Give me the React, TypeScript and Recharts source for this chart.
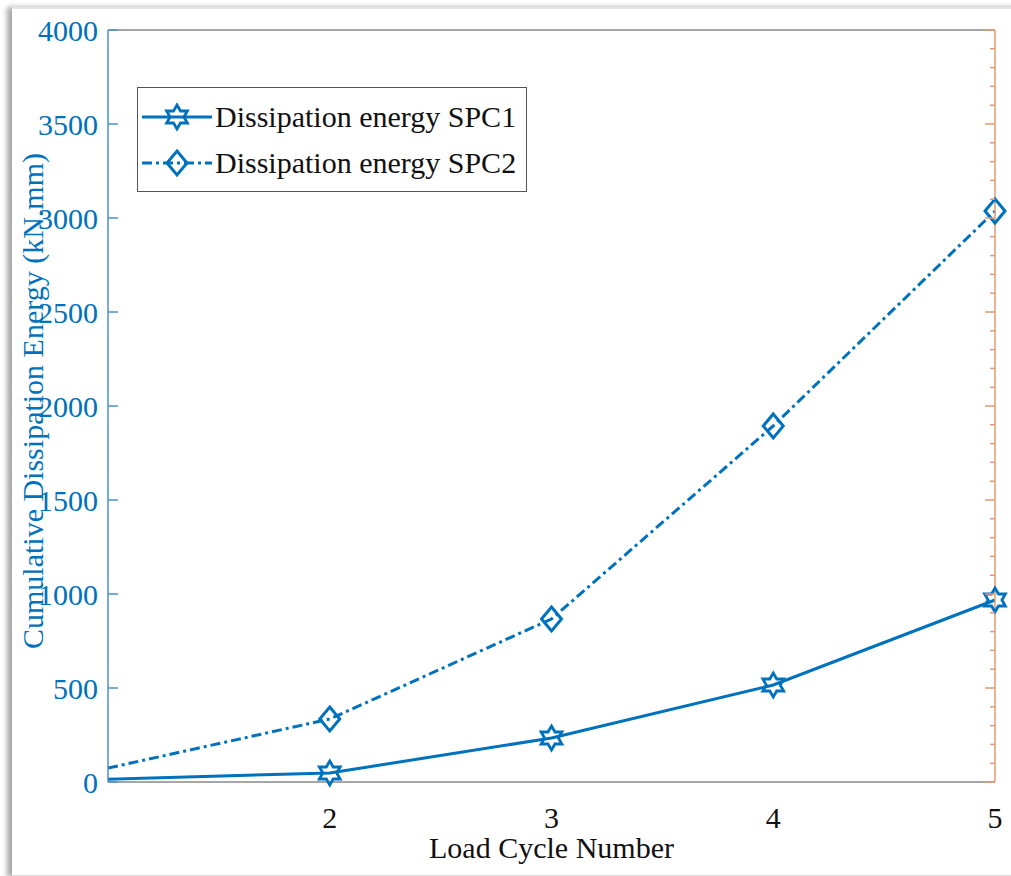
import React from 'react';
import { LineChart, Line, XAxis, YAxis, ReferenceLine } from 'recharts';

const cycles = [1, 2, 3, 4, 5];
const spc1 = [15, 48, 234, 516, 968];
const spc2 = [74, 335, 867, 1894, 3037];
const xTicks = [2, 3, 4, 5];
const yTicks = [0, 500, 1000, 1500, 2000, 2500, 3000, 3500, 4000];
const minorTicks = Array.from({ length: 41 }, (_, i) => i * 100);
const seriesNames = ['Dissipation energy SPC1', 'Dissipation energy SPC2'];

const data = cycles.map((c, i) => ({ cycle: c, spc1: spc1[i], spc2: spc2[i] }));

const BLUE = '#0072BD';
const ORANGE = '#e59a72';
const FONT = '"Liberation Serif", "Times New Roman", serif';
const DASH = '10 4 3 4';

function Hexagram({ cx, cy, index }: any) {
  if (index === 0 || cx == null) return <g key={`h${index}`} />;
  const R = 12;
  const r = R / Math.sqrt(3);
  const pts = [];
  for (let k = 0; k < 12; k++) {
    const a = (-90 + k * 30) * (Math.PI / 180);
    const rad = k % 2 === 0 ? R : r;
    pts.push(`${cx + rad * Math.cos(a)},${cy + rad * Math.sin(a)}`);
  }
  return <polygon key={`h${index}`} points={pts.join(' ')} fill="none" stroke={BLUE} strokeWidth={2.8} />;
}

function Diamond({ cx, cy, index }: any) {
  if (index === 0 || cx == null) return <g key={`d${index}`} />;
  const w = 10, h = 12;
  return (
    <polygon
      key={`d${index}`}
      points={`${cx},${cy - h} ${cx + w},${cy} ${cx},${cy + h} ${cx - w},${cy}`}
      fill="none"
      stroke={BLUE}
      strokeWidth={3}
    />
  );
}

// right-hand axis: minor ticks every 100, longer ones every 500, pointing inward
const rightTick = (p: any) => {
  const len = p.payload.value % 500 === 0 ? 10 : 5;
  return (
    <path key={`rt${p.index}`} d={`M${p.x},${p.y}h${-len}`} stroke={ORANGE} strokeWidth={1.5} fill="none" />
  );
};

function LegendBox() {
  const rows = [
    { name: seriesNames[0], dash: undefined, Mark: Hexagram },
    { name: seriesNames[1], dash: DASH, Mark: Diamond },
  ];
  return (
    <div
      style={{
        position: 'absolute',
        left: 137,
        top: 87,
        border: '1.5px solid #555',
        background: '#fff',
        height: 105,
        boxSizing: 'border-box',
        paddingTop: 6,
        paddingRight: 10,
      }}
    >
      {rows.map((r) => (
        <div key={r.name} style={{ display: 'flex', alignItems: 'center', height: 46 }}>
          <svg width={74} height={30} style={{ marginLeft: 2 }}>
            <line x1={2} y1={15} x2={72} y2={15} stroke={BLUE} strokeWidth={3} strokeDasharray={r.dash} />
            <r.Mark cx={37} cy={15} index={1} />
          </svg>
          <span style={{ fontFamily: FONT, fontSize: 30, color: '#111', marginLeft: 1, whiteSpace: 'nowrap' }}>
            {r.name}
          </span>
        </div>
      ))}
    </div>
  );
}

export default function App() {
  return (
    <div style={{ position: 'absolute', left: 0, top: 0, width: 1011, height: 876, background: '#fff', overflow: 'hidden' }}>
      <div
        style={{
          position: 'absolute',
          left: 12,
          top: 7,
          width: 1020,
          height: 866,
          borderTop: '2px solid #e6e6e6',
          borderBottom: '2px solid #dcdcdc',
          boxShadow: '-5px 0 5px #a8a8a8',
          background: '#fff',
        }}
      />
      <div style={{ position: 'absolute', left: 0, top: 0 }}>
        <LineChart width={1011} height={876} data={data} margin={{ top: 30, right: 0, bottom: 34, left: 0 }}>
          <XAxis
            dataKey="cycle"
            type="number"
            domain={[1, 5]}
            ticks={xTicks}
            axisLine={{ stroke: '#888', strokeWidth: 1.5 }}
            tickLine={false}
            tick={{ fill: '#111', fontSize: 30, fontFamily: FONT }}
            tickMargin={19}
            height={60}
            label={({ viewBox }: any) => (
              <text
                x={viewBox.x + viewBox.width / 2}
                y={viewBox.y + 76}
                textAnchor="middle"
                fill="#111"
                fontSize={30}
                fontFamily={FONT}
              >
                Load Cycle Number
              </text>
            )}
          />
          <YAxis
            yAxisId="left"
            type="number"
            domain={[0, 4000]}
            ticks={yTicks}
            width={108}
            axisLine={{ stroke: '#4a90c8', strokeWidth: 1.5 }}
            tickLine={{ stroke: '#4a90c8', strokeWidth: 1.5 }}
            tickSize={-10}
            tickMargin={20}
            tick={{ fill: BLUE, fontSize: 30, fontFamily: FONT }}
            label={({ viewBox }: any) => {
              const cx = viewBox.x + 32;
              const cy = viewBox.y + viewBox.height / 2 - 5;
              return (
                <text
                  x={cx}
                  y={cy}
                  transform={`rotate(-90 ${cx} ${cy})`}
                  textAnchor="middle"
                  dominantBaseline="central"
                  fill={BLUE}
                  fontSize={30}
                  fontFamily={FONT}
                >
                  Cumulative Dissipation Energy (kN.mm)
                </text>
              );
            }}
          />
          <YAxis
            yAxisId="right"
            orientation="right"
            type="number"
            domain={[0, 4000]}
            ticks={minorTicks}
            interval={0}
            width={16}
            axisLine={{ stroke: ORANGE, strokeWidth: 1.5 }}
            tickLine={false}
            tickSize={0}
            tickMargin={0}
            tick={rightTick}
          />
          <ReferenceLine yAxisId="left" y={4000} stroke="#888" strokeWidth={1.5} />
          {/* same 0–4000 domain on both axes, so either scale places the points identically */}
          <Line
            yAxisId="right"
            dataKey="spc1"
            name={seriesNames[0]}
            stroke={BLUE}
            strokeWidth={3}
            dot={<Hexagram />}
            isAnimationActive={false}
          />
          <Line
            yAxisId="left"
            dataKey="spc2"
            name={seriesNames[1]}
            stroke={BLUE}
            strokeWidth={3}
            strokeDasharray={DASH}
            dot={<Diamond />}
            isAnimationActive={false}
          />
        </LineChart>
      </div>
      <LegendBox />
    </div>
  );
}
